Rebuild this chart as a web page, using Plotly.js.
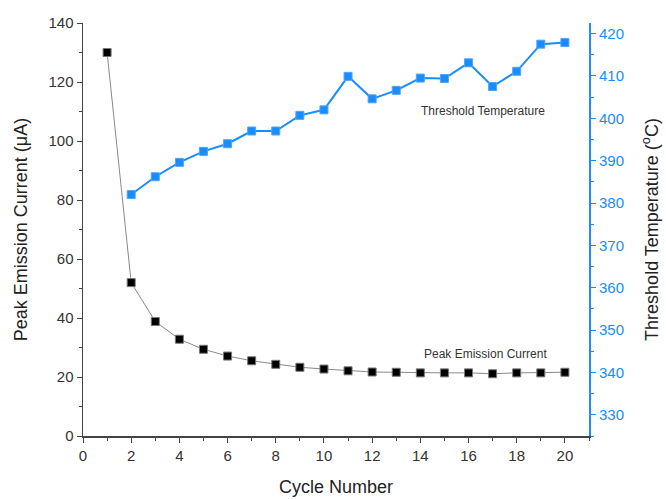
<!DOCTYPE html>
<html>
<head>
<meta charset="utf-8">
<script src="https://cdn.plot.ly/plotly-3.0.1.min.js"></script>
<style>html,body{margin:0;padding:0;background:#fff;}#chart{width:666px;height:499px;}</style>
</head>
<body>
<div id="chart"></div>
<script>
const cycles = [1,2,3,4,5,6,7,8,9,10,11,12,13,14,15,16,17,18,19,20];
const peakCurrent = [130.0,52.0,38.8,32.8,29.4,27.1,25.5,24.3,23.3,22.7,22.1,21.7,21.6,21.4,21.4,21.4,21.1,21.4,21.4,21.6];
const tempCycles = [2,3,4,5,6,7,8,9,10,11,12,13,14,15,16,17,18,19,20];
const thresholdTemp = [382.0,386.2,389.6,392.2,394.0,397.0,397.0,400.7,402.0,409.9,404.6,406.6,409.5,409.4,413.1,407.5,411.1,417.5,417.9];

const blue = '#1a8cff';
const axisGray = '#444';

const traces = [
  {
    x: cycles, y: peakCurrent, type: 'scatter', mode: 'lines+markers',
    line: {color: '#8a8a8a', width: 1},
    marker: {symbol: 'square', size: 8, color: '#000', line: {color: '#777', width: 1}},
    xaxis: 'x', yaxis: 'y', showlegend: false, hoverinfo: 'skip'
  },
  {
    x: tempCycles, y: thresholdTemp, type: 'scatter', mode: 'lines+markers',
    line: {color: blue, width: 2},
    marker: {symbol: 'square', size: 8, color: blue, line: {color: '#4aa6ff', width: 1}},
    xaxis: 'x', yaxis: 'y2', showlegend: false, hoverinfo: 'skip'
  }
];

const tickFont = {family: 'Liberation Sans, Arial, sans-serif', size: 15, color: '#333'};
const titleFont = {family: 'Liberation Sans, Arial, sans-serif', size: 18, color: '#222'};

const layout = {
  width: 666, height: 499,
  margin: {l: 83, r: 77, t: 23, b: 63},
  paper_bgcolor: '#fff', plot_bgcolor: '#fff',
  showlegend: false,
  xaxis: {
    range: [0, 21], tick0: 0, dtick: 2,
    ticks: 'outside', ticklen: 5, tickwidth: 1, tickcolor: axisGray,
    minor: {dtick: 1, ticks: 'outside', ticklen: 3, tickcolor: axisGray},
    showline: true, linecolor: axisGray, linewidth: 1.5,
    showgrid: false, zeroline: false,
    tickfont: tickFont,
    title: {text: 'Cycle Number', font: titleFont, standoff: 18}
  },
  xaxis2: {
    overlaying: 'x', side: 'top', anchor: 'y',
    range: [0, 21], tick0: 0, dtick: 1,
    ticks: 'inside', ticklen: 5, tickwidth: 1, tickcolor: axisGray,
    showticklabels: false,
    showline: true, linecolor: axisGray, linewidth: 1.5,
    showgrid: false, zeroline: false
  },
  yaxis: {
    range: [0, 140], tick0: 0, dtick: 20,
    ticks: 'outside', ticklen: 5, tickwidth: 1, tickcolor: axisGray,
    minor: {dtick: 10, ticks: 'outside', ticklen: 3, tickcolor: axisGray},
    showline: true, linecolor: axisGray, linewidth: 1.5,
    showgrid: false, zeroline: false,
    tickfont: tickFont,
    title: {text: 'Peak Emission Current (μA)', font: titleFont, standoff: 16}
  },
  yaxis2: {
    overlaying: 'y', side: 'right', anchor: 'x',
    range: [325, 422.5], tick0: 330, dtick: 10,
    ticks: 'outside', ticklen: 5, tickwidth: 1, tickcolor: blue,
    minor: {dtick: 5, ticks: 'outside', ticklen: 3, tickcolor: blue},
    showline: true, linecolor: blue, linewidth: 2,
    showgrid: false, zeroline: false,
    tickfont: {family: 'Liberation Sans, Arial, sans-serif', size: 15, color: blue},
    title: {text: 'Threshold Temperature (<sup>o</sup>C)', font: titleFont, standoff: 22}
  },
  annotations: [
    {xref: 'x', yref: 'y2', x: 16.6, y: 401.7, text: 'Threshold Temperature', showarrow: false,
     font: {family: 'Liberation Sans, Arial, sans-serif', size: 12, color: '#333'}},
    {xref: 'x', yref: 'y', x: 16.7, y: 27.9, text: 'Peak Emission Current', showarrow: false,
     font: {family: 'Liberation Sans, Arial, sans-serif', size: 12, color: '#333'}}
  ]
};

Plotly.newPlot('chart', traces, layout, {displayModeBar: false, staticPlot: true});
</script>
</body>
</html>
